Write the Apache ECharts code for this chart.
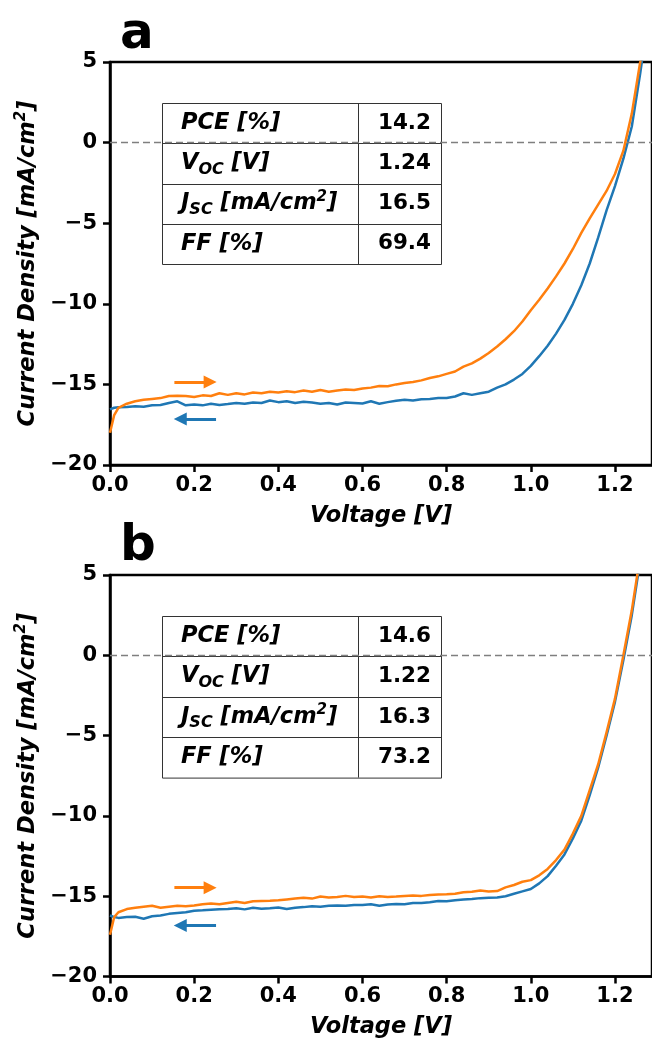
<!DOCTYPE html>
<html><head><meta charset="utf-8">
<script src="https://cdn.jsdelivr.net/npm/echarts@6/dist/echarts.min.js"></script>
<style>html,body{margin:0;padding:0;background:#fff}#c{width:652px;height:1040px}</style>
</head><body><div id="c"></div>
<script>
// ---- data ----
const voltage = [0,0.01,0.02,0.04,0.06,0.08,0.10,0.12,0.14,0.16,0.18,0.20,0.22,0.24,0.26,0.28,0.30,0.32,0.34,0.36,0.38,0.40,0.42,0.44,0.46,0.48,0.50,0.52,0.54,0.56,0.58,0.60,0.62,0.64,0.66,0.68,0.70,0.72,0.74,0.76,0.78,0.80,0.82,0.84,0.86,0.88,0.90,0.92,0.94,0.96,0.98,1.00,1.02,1.04,1.06,1.08,1.10,1.12,1.14,1.16,1.18,1.20,1.22,1.24,1.26,1.28];

// panel a
const aForward = [-18.0,-16.9,-16.45,-16.2,-16.05,-15.95,-15.9,-15.85,-15.72,-15.7,-15.72,-15.78,-15.68,-15.72,-15.55,-15.65,-15.55,-15.62,-15.5,-15.55,-15.45,-15.5,-15.42,-15.48,-15.38,-15.45,-15.35,-15.45,-15.38,-15.32,-15.35,-15.25,-15.2,-15.1,-15.12,-15.0,-14.92,-14.85,-14.75,-14.6,-14.5,-14.35,-14.2,-13.9,-13.7,-13.4,-13.05,-12.65,-12.2,-11.7,-11.1,-10.4,-9.75,-9.05,-8.3,-7.5,-6.6,-5.6,-4.7,-3.85,-3.0,-1.95,-0.5,1.8,5.0,9.0];
const aReverse = [-16.55,-16.45,-16.42,-16.4,-16.35,-16.38,-16.3,-16.28,-16.15,-16.05,-16.3,-16.25,-16.3,-16.2,-16.28,-16.22,-16.15,-16.2,-16.12,-16.15,-16.0,-16.1,-16.05,-16.15,-16.08,-16.12,-16.2,-16.15,-16.25,-16.12,-16.15,-16.18,-16.05,-16.2,-16.1,-16.02,-15.95,-16.0,-15.92,-15.9,-15.85,-15.85,-15.75,-15.55,-15.65,-15.55,-15.45,-15.2,-15.0,-14.7,-14.35,-13.85,-13.25,-12.6,-11.85,-11.0,-10.0,-8.85,-7.5,-5.9,-4.2,-2.7,-1.0,1.0,4.3,8.0];

// panel b
const bForward = [-17.4,-16.3,-16.0,-15.8,-15.72,-15.65,-15.6,-15.72,-15.65,-15.6,-15.62,-15.58,-15.5,-15.45,-15.5,-15.42,-15.35,-15.42,-15.32,-15.3,-15.28,-15.25,-15.2,-15.15,-15.1,-15.15,-15.02,-15.08,-15.05,-14.98,-15.05,-15.02,-15.08,-15.0,-15.05,-15.02,-14.98,-14.95,-14.98,-14.92,-14.9,-14.88,-14.85,-14.75,-14.72,-14.65,-14.7,-14.68,-14.45,-14.3,-14.1,-14.0,-13.7,-13.3,-12.75,-12.1,-11.1,-10.0,-8.4,-6.8,-4.8,-2.7,0.0,2.8,6.2,10.0];
const bReverse = [-16.2,-16.3,-16.35,-16.3,-16.28,-16.4,-16.25,-16.2,-16.1,-16.05,-16.0,-15.9,-15.88,-15.85,-15.82,-15.8,-15.75,-15.82,-15.72,-15.78,-15.75,-15.7,-15.8,-15.72,-15.68,-15.62,-15.65,-15.6,-15.58,-15.6,-15.55,-15.55,-15.5,-15.6,-15.52,-15.48,-15.5,-15.42,-15.42,-15.38,-15.3,-15.32,-15.25,-15.2,-15.18,-15.12,-15.1,-15.08,-15.0,-14.85,-14.7,-14.55,-14.2,-13.75,-13.1,-12.4,-11.4,-10.3,-8.7,-7.0,-5.0,-2.9,-0.3,2.5,5.9,9.5];

const xTicks = [0, 0.2, 0.4, 0.6, 0.8, 1.0, 1.2];
const panelLetters = ['a', 'b'];
const tableLabels = ['{i|PCE [%]}', '{i|V}{s|OC}{i| [V]}', '{i|J}{s|SC}{i| [mA/cm}{p|2}{i|]}', '{i|FF [%]}'];
const aTable = ['14.2', '1.24', '16.5', '69.4'];
const bTable = ['14.6', '1.22', '16.3', '73.2'];
// arrow annotations: [x0, x1, y] in data units
const aArrowFwd = [0.153, 0.238, -14.85];
const aArrowRev = [0.252, 0.167, -17.15];
const bArrowFwd = [0.153, 0.238, -14.47];
const bArrowRev = [0.252, 0.167, -16.83];

// ---- chart ----
const BLUE = '#1f77b4', ORANGE = '#ff7f0e';
const FONT = 'DejaVu Sans';
const chart = echarts.init(document.getElementById('c'), null, {renderer: 'canvas'});

const grids = [
  {left: 110, top: 62, width: 546, height: 403},
  {left: 110, top: 575, width: 546, height: 403}
].map(g => Object.assign(g, {show: true, borderColor: '#000', borderWidth: 2.5, backgroundColor: 'transparent', containLabel: false}));

const lblStyle = {fontSize: 21, fontWeight: 'bold', color: '#000', fontFamily: FONT};
const NAME_FS = 22.5;
const nameRich = {
  n: {fontSize: NAME_FS, fontWeight: 'bold', fontStyle: 'italic', color: '#000', fontFamily: FONT, lineHeight: 28, verticalAlign: 'middle'},
  p: {fontSize: 15, fontWeight: 'bold', fontStyle: 'italic', color: '#000', fontFamily: FONT, lineHeight: 14, verticalAlign: 'top'}
};
const nameStyle = {fontSize: NAME_FS, fontWeight: 'bold', fontStyle: 'italic', color: '#000', fontFamily: FONT, rich: nameRich};

function xAxisFor(i) {
  return {
    gridIndex: i, type: 'value', min: 0, max: 1.288,
    axisLine: {onZero: false, lineStyle: {color: '#000', width: 2.5}},
    axisTick: {customValues: xTicks, length: 7, lineStyle: {color: '#000', width: 2.5}},
    axisLabel: Object.assign({customValues: xTicks, margin: 10, formatter: v => v.toFixed(1)}, lblStyle),
    splitLine: {show: false},
    name: '{n|Voltage [V]}', nameLocation: 'middle', nameGap: 37, nameTextStyle: nameStyle
  };
}
function yAxisFor(i) {
  return {
    gridIndex: i, type: 'value', min: -20, max: 5, interval: 5,
    axisLine: {onZero: false, lineStyle: {color: '#000', width: 2.5}},
    axisTick: {length: 7, lineStyle: {color: '#000', width: 2.5}},
    axisLabel: Object.assign({margin: 13, formatter: v => v < 0 ? '\u2212' + Math.abs(v) : String(v)}, lblStyle),
    splitLine: {show: false},
    name: '{n|Current Density [mA/cm}{p|2}{n|]}', nameLocation: 'middle', nameGap: 66, nameRotate: 90, nameTextStyle: nameStyle
  };
}
function pairs(ys) { return voltage.map((v, k) => [v, ys[k]]); }
function arrow(a, color) {
  return [
    {coord: [a[0], a[2]], symbol: 'none', lineStyle: {color: color, width: 3, type: 'solid'}},
    {coord: [a[1], a[2]], symbol: 'triangle', symbolSize: 13, itemStyle: {color: color}}
  ];
}
function seriesFor(i, fwd, rev, arrF, arrR) {
  const base = {type: 'line', xAxisIndex: i, yAxisIndex: i, showSymbol: false, symbol: 'none', clip: true, animation: false, silent: true};
  return [
    Object.assign({}, base, {
      name: 'reverse' + i, data: pairs(rev), lineStyle: {color: BLUE, width: 2.5}, itemStyle: {color: BLUE},
      markLine: {silent: true, animation: false, label: {show: false}, symbol: 'none', data: [arrow(arrR, BLUE)]}
    }),
    Object.assign({}, base, {
      name: 'forward' + i, data: pairs(fwd), lineStyle: {color: ORANGE, width: 2.5}, itemStyle: {color: ORANGE},
      markLine: {silent: true, animation: false, label: {show: false}, symbol: 'none', data: [
        {yAxis: 0, symbol: 'none', lineStyle: {color: '#7f7f7f', width: 1.4, type: [7, 4]}},
        arrow(arrF, ORANGE)
      ]}
    })
  ];
}

const rich = {
  i: {fontSize: 22.5, fontWeight: 'bold', fontStyle: 'italic', fontFamily: FONT, lineHeight: 28, verticalAlign: 'middle', fill: '#000'},
  s: {fontSize: 16, fontWeight: 'bold', fontStyle: 'italic', fontFamily: FONT, lineHeight: 15, verticalAlign: 'bottom', fill: '#000'},
  p: {fontSize: 15, fontWeight: 'bold', fontStyle: 'italic', fontFamily: FONT, lineHeight: 14, verticalAlign: 'top', fill: '#000'}
};
function tableGraphics(top, rowH, vals) {
  const L = 162.5, R = 441.5, M = 358.5, H = rowH * 4;
  const els = [{type: 'rect', shape: {x: L, y: top + 0.5, width: R - L, height: H}, style: {fill: 'none', stroke: '#333', lineWidth: 1}, z: 1}];
  els.push({type: 'line', shape: {x1: M, y1: top, x2: M, y2: top + H}, style: {stroke: '#333', lineWidth: 1}, z: 1});
  for (let r = 1; r < 4; r++) {
    const y = Math.round(top + r * rowH) + 0.5;
    els.push({type: 'line', shape: {x1: L, y1: y, x2: R, y2: y}, style: {stroke: '#333', lineWidth: 1}, z: 1});
  }
  for (let r = 0; r < 4; r++) {
    const cy = top + (r + 0.5) * rowH;
    els.push({type: 'text', x: 181, y: cy, z: 2, style: {text: tableLabels[r], rich: rich, align: 'left', verticalAlign: 'middle'}});
    els.push({type: 'text', x: 431, y: cy, z: 2, style: {text: vals[r], fontSize: 21.5, fontWeight: 'bold', fontFamily: FONT, fill: '#000', align: 'right', verticalAlign: 'middle'}});
  }
  return els;
}

const graphic = [
  {type: 'text', x: 120, y: 35, style: {text: panelLetters[0], fontSize: 50, fontWeight: 'bold', fontFamily: FONT, fill: '#000', align: 'left', verticalAlign: 'middle'}},
  {type: 'text', x: 120, y: 547, style: {text: panelLetters[1], fontSize: 50, fontWeight: 'bold', fontFamily: FONT, fill: '#000', align: 'left', verticalAlign: 'middle'}}
].concat(tableGraphics(103, 40.25, aTable), tableGraphics(616, 40.4, bTable));

chart.setOption({
  animation: false,
  backgroundColor: '#fff',
  textStyle: {fontFamily: FONT},
  grid: grids,
  xAxis: [xAxisFor(0), xAxisFor(1)],
  yAxis: [yAxisFor(0), yAxisFor(1)],
  series: seriesFor(0, aForward, aReverse, aArrowFwd, aArrowRev).concat(seriesFor(1, bForward, bReverse, bArrowFwd, bArrowRev)),
  graphic: graphic
});
</script>
</body></html>
